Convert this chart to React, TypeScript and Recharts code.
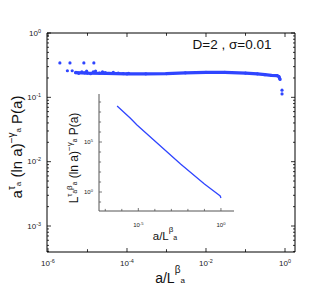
import { ComposedChart, LineChart, Line, Scatter, XAxis, YAxis } from 'recharts';

const BLUE = '#2f45ff';
const FONT = '"Liberation Sans", Arial, Helvetica, sans-serif';

// main panel: isolated points at small a
const upperX = [2.0e-6, 3.6e-6, 8.1e-6, 1.45e-5];
const upperY = [0.343, 0.343, 0.343, 0.343];

// scattered points around the start of the band
const noiseX = [3.1e-6, 4.1e-6, 5.1e-6, 6.0e-6, 7.2e-6, 8.5e-6, 9.5e-6, 1.2e-5, 1.4e-5, 1.6e-5, 2.0e-5, 2.4e-5, 2.8e-5, 3.5e-5, 4.5e-5, 6.0e-5, 8.0e-5, 1.1e-4];
const noiseY = [0.259, 0.259, 0.245, 0.236, 0.25, 0.24, 0.255, 0.233, 0.248, 0.256, 0.238, 0.25, 0.242, 0.236, 0.245, 0.238, 0.234, 0.236];

// dense band
const bandX = [5e-6, 1e-5, 3e-5, 1e-4, 3e-4, 1e-3, 3e-3, 1e-2, 3e-2, 0.1, 0.2, 0.31, 0.45, 0.63, 0.7, 0.75];
const bandY = [0.242, 0.238, 0.236, 0.232, 0.232, 0.234, 0.24, 0.244, 0.244, 0.238, 0.232, 0.225, 0.22, 0.217, 0.21, 0.19];

// drop-off at the end
const tailX = [0.84, 0.84];
const tailY = [0.129, 0.113];

const mainXLabels = [1e-6, 1e-4, 1e-2, 1];
const mainYLabels = [1e-3, 1e-2, 1e-1, 1];

// inset
const insetX = [5.2e-7, 3.2e-6, 8.3e-6, 1e-4, 3.6e-3, 0.1, 0.76, 0.9, 1.0];
const insetY = [4e8, 2.5e7, 5e6, 1.26e5, 630, 6.3, 0.5, 0.4, 0.25];
const insetXLabels = [1e-5, 1];
const insetYLabels = [1, 1e5];

const mainXDomain: [number, number] = [10 ** -6.025, 10 ** 0.253];
const mainYDomain: [number, number] = [10 ** -3.404, 1];
const insetXDomain: [number, number] = [10 ** -7.38, 10 ** 0.79];
const insetYDomain: [number, number] = [10 ** -1.9, 10 ** 9.8];

const toPts = (xs: number[], ys: number[]) => xs.map((x, i) => ({ x, y: ys[i] }));

// tick positions: each decade, plus 2..9 minors if asked
const logTicks = ([lo, hi]: [number, number], minors: boolean) => {
  const out: number[] = [];
  for (let e = Math.floor(Math.log10(lo)); e <= Math.ceil(Math.log10(hi)); e++) {
    const steps = minors ? [1, 2, 3, 4, 5, 6, 7, 8, 9] : [1];
    steps.forEach((m) => {
      const v = m * 10 ** e;
      if (v >= lo && v <= hi) out.push(v);
    });
  }
  return out;
};

const expOf = (v: number) => Math.log10(v);
const isDecade = (v: number) => Math.abs(expOf(v) - Math.round(expOf(v))) < 1e-9;
const hasLabel = (v: number, labels: number[]) =>
  labels.some((l) => Math.abs(Math.log10(l) - expOf(v)) < 1e-9);

const makeTick =
  (side: string, labels: number[], o: { color: string; major: number; minor: number; fs: number; gap: number; showLabels: boolean }) =>
  (props: any) => {
    const { x, y, payload } = props;
    const v = payload.value;
    const labelled = hasLabel(v, labels);
    const len = labelled ? o.major : isDecade(v) ? o.major * 0.7 : o.minor;
    let line;
    if (side === 'bottom') line = <line x1={x} x2={x} y1={y} y2={y - len} />;
    else if (side === 'top') line = <line x1={x} x2={x} y1={y} y2={y + len} />;
    else if (side === 'left') line = <line x1={x} x2={x + len} y1={y} y2={y} />;
    else line = <line x1={x} x2={x - len} y1={y} y2={y} />;
    const e = Math.round(expOf(v));
    let label = null;
    if (o.showLabels && labelled) {
      const sup = <tspan dy={-o.fs * 0.4} fontSize={o.fs * 0.68}>{e}</tspan>;
      if (side === 'bottom')
        label = <text x={x} y={y + o.gap} textAnchor="middle" fontSize={o.fs} fill="#222" stroke="none">10{sup}</text>;
      else
        label = <text x={x - o.gap} y={y + o.fs * 0.35} textAnchor="end" fontSize={o.fs} fill="#222" stroke="none">10{sup}</text>;
    }
    return (
      <g stroke={o.color} strokeWidth={0.8} fontFamily={FONT}>
        {line}
        {label}
      </g>
    );
  };

const mainOpts = { color: '#000', major: 4, minor: 2, fs: 8, gap: 14, showLabels: true };
const mirrorOpts = { ...mainOpts, showLabels: false };
const insetOpts = { color: '#555', major: 3, minor: 1.5, fs: 6, gap: 16, showLabels: true };

const dot = (p: any) => <circle cx={p.cx} cy={p.cy} r={1.6} fill={BLUE} />;

const App = () => {
  const mxTicks = logTicks(mainXDomain, false);
  const myTicks = logTicks(mainYDomain, true);
  const ixTicks = logTicks(insetXDomain, false);
  const iyTicks = logTicks(insetYDomain, false);
  return (
    <div style={{ position: 'absolute', left: 0, top: 0, width: 332, height: 294, background: '#fff', fontFamily: FONT }}>
      <ComposedChart width={332} height={294} margin={{ top: 32, right: 36, bottom: 41, left: 46 }}>
        <XAxis type="number" dataKey="x" scale="log" domain={mainXDomain} allowDataOverflow ticks={mxTicks} interval={0}
          height={1} tickSize={0} tickMargin={0} tickLine={false} axisLine={{ stroke: '#000' }} tick={makeTick('bottom', mainXLabels, mainOpts)} />
        <XAxis xAxisId="top" orientation="top" type="number" dataKey="x" scale="log" domain={mainXDomain} allowDataOverflow ticks={mxTicks} interval={0}
          height={1} tickSize={0} tickMargin={0} tickLine={false} axisLine={{ stroke: '#000' }} tick={makeTick('top', mainXLabels, mirrorOpts)} />
        <YAxis type="number" dataKey="y" scale="log" domain={mainYDomain} allowDataOverflow ticks={myTicks} interval={0}
          width={1} tickSize={0} tickMargin={0} tickLine={false} axisLine={{ stroke: '#000' }} tick={makeTick('left', mainYLabels, { ...mainOpts, gap: 6 })} />
        <YAxis yAxisId="right" orientation="right" type="number" dataKey="y" scale="log" domain={mainYDomain} allowDataOverflow ticks={myTicks} interval={0}
          width={1} tickSize={0} tickMargin={0} tickLine={false} axisLine={{ stroke: '#000' }} tick={makeTick('right', mainYLabels, mirrorOpts)} />
        <Scatter data={toPts(bandX, bandY)} line={{ stroke: BLUE, strokeWidth: 3.2 }} lineType="joint" shape={dot} isAnimationActive={false} />
        <Scatter data={toPts(noiseX, noiseY)} shape={dot} isAnimationActive={false} />
        <Scatter data={toPts(upperX, upperY)} shape={dot} isAnimationActive={false} />
        <Scatter data={toPts(tailX, tailY)} shape={dot} isAnimationActive={false} />
      </ComposedChart>

      <div style={{ position: 'absolute', left: 60, top: 85 }}>
        <LineChart width={190} height={160} data={toPts(insetX, insetY)} margin={{ top: 9, right: 16, bottom: 33, left: 38 }}>
          <XAxis type="number" dataKey="x" scale="log" domain={insetXDomain} allowDataOverflow ticks={ixTicks} interval={0}
            height={1} tickSize={0} tickMargin={0} tickLine={false} axisLine={{ stroke: '#555' }} tick={makeTick('bottom', insetXLabels, insetOpts)} />
          <YAxis type="number" dataKey="y" scale="log" domain={insetYDomain} allowDataOverflow ticks={iyTicks} interval={0}
            width={1} tickSize={0} tickMargin={0} tickLine={false} axisLine={{ stroke: '#555' }} tick={makeTick('left', insetYLabels, { ...insetOpts, gap: 6 })} />
          <Line dataKey="y" stroke={BLUE} strokeWidth={1.3} dot={false} isAnimationActive={false} />
        </LineChart>
      </div>

      <svg width={332} height={294} style={{ position: 'absolute', left: 0, top: 0, pointerEvents: 'none' }} fontFamily={FONT}>
        <text x={232} y={49} textAnchor="middle" fontSize={13.5} fill="#111">D=2 , σ=0.01</text>
        <text x={170} y={283} textAnchor="middle" fontSize={14} fill="#111">
          a/L<tspan dy={-10} fontSize={10}>β</tspan><tspan dy={10} fontSize={8}>a</tspan>
        </text>
        <text transform="translate(22,147) rotate(-90)" textAnchor="middle" fontSize={15} fill="#111">
          a<tspan dy={-7} fontSize={10}>τ</tspan><tspan dy={6} fontSize={8}>a</tspan>
          <tspan dy={1}> (ln a)</tspan><tspan dy={-7} fontSize={10}>−γ</tspan><tspan dy={6} fontSize={8}>a</tspan>
          <tspan dy={1}> P(a)</tspan>
        </text>
        <text x={165} y={240} textAnchor="middle" fontSize={11.5} fill="#111">
          a/L<tspan dy={-8} fontSize={8}>β</tspan><tspan dy={8} fontSize={7}>a</tspan>
        </text>
        <text transform="translate(78,158) rotate(-90)" textAnchor="middle" fontSize={12} fill="#111">
          L<tspan dy={-6} fontSize={8}>τ</tspan><tspan dy={5} fontSize={6.5}>a</tspan>
          <tspan dy={-5} fontSize={8}>β</tspan><tspan dy={5} fontSize={6.5}>a</tspan>
          <tspan dy={1}> (ln a)</tspan><tspan dy={-6} fontSize={8}>−γ</tspan><tspan dy={5} fontSize={6.5}>a</tspan>
          <tspan dy={1}> P(a)</tspan>
        </text>
      </svg>
    </div>
  );
};

export default App;
